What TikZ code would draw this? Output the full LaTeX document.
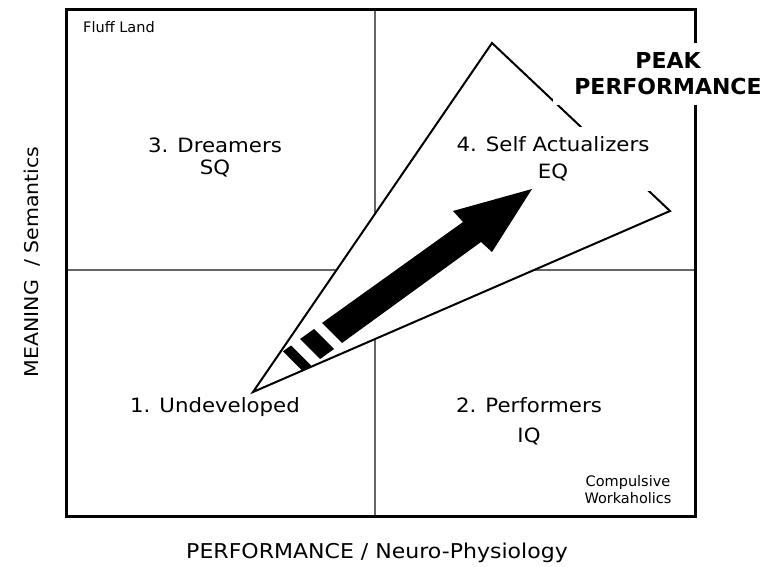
\documentclass[tikz,border=0pt]{standalone}
\usepackage{fontspec}
\setmainfont{DejaVu Sans}[FakeStretch=1.08]
\newfontfamily\smallfont{DejaVu Sans}
\newfontfamily\peakfont{DejaVu Sans Bold}
\begin{document}
\begin{tikzpicture}[x=1pt,y=-1pt,
  big/.style={font=\fontsize{19.7}{22}\selectfont, inner sep=0pt},
  xlabelstyle/.style={font=\fontsize{20.4}{22}\selectfont, inner sep=0pt},
  ylabel/.style={font=\fontsize{19}{22}\selectfont, inner sep=0pt},
  small/.style={font=\smallfont\fontsize{14.5}{17}\selectfont, inner sep=0pt},
  framebox/.style={draw=black, line width=3pt},
  divider/.style={draw=black!60, line width=1.2pt},
  tri/.style={draw=black, fill=white, line width=2pt, line join=miter},
  peak/.style={font=\peakfont\fontsize{22}{26}\selectfont, fill=white, align=center},
  blk/.style={fill=black}
]
\useasboundingbox (0,0) rectangle (776,567);
% frame corners and dividers
\coordinate (NW) at (66,10);
\coordinate (SE) at (695,516);
\coordinate (vt) at (375,10);
\coordinate (vb) at (375,516);
\coordinate (hl) at (66,270);
\coordinate (hr) at (695,270);
\draw[divider] (vt) -- (vb);
\draw[divider] (hl) -- (hr);
\draw[framebox] (NW) rectangle (SE);
% triangle
\coordinate (A) at (253,392);
\coordinate (T) at (492,43);
\coordinate (R) at (670,211);
\path[tri] (A) -- (T) -- (R) -- cycle;
% quadrant 4 label (white box hides part of the triangle edge)
\node[big, fill=white, align=center, inner xsep=3pt, inner ysep=10pt] (self) at (553,159) {4. Self Actualizers\\[4.5pt]EQ};
% arrow
\fill[blk] (322,323) -- (463,222) -- (453,211) -- (532,189) -- (492,252) -- (481,242) -- (342,343) -- cycle;
\begin{scope}
  \clip (A) -- (T) -- (R) -- cycle;
  \fill[blk] (314,329) -- (334,349) -- (320,359) -- (300,339) -- cycle;
  \fill[blk] (291,345.5) -- (311,365.5) -- (303,371.3) -- (283,351.3) -- cycle;
\end{scope}
% quadrant labels
\node[big, anchor=base] (dreamers) at (215,153) {3. Dreamers};
\node[big, anchor=base] (sq) at (215,175) {SQ};
\node[big, anchor=base] (undev) at (215,412) {1. Undeveloped};
\node[big, anchor=base] (perf) at (529,412) {2. Performers};
\node[big, anchor=base] (iq) at (529,442) {IQ};
\node[small, anchor=base west] (fluff) at (83,33) {Fluff Land};
\node[small, anchor=base] (comp) at (628,486) {Compulsive};
\node[small, anchor=base] (work) at (628,503) {Workaholics};
% axis labels
\node[xlabelstyle, anchor=base] (xlab) at (377,558) {PERFORMANCE / Neuro-Physiology};
\node[ylabel, rotate=90, anchor=base] (ylab) at (38,262) {MEANING\ \ / Semantics};
% peak label
\node[peak, minimum width=230pt, minimum height=62pt, inner sep=0pt] (peak) at (668,74) {PEAK\\PERFORMANCE};
\end{tikzpicture}
\end{document}
